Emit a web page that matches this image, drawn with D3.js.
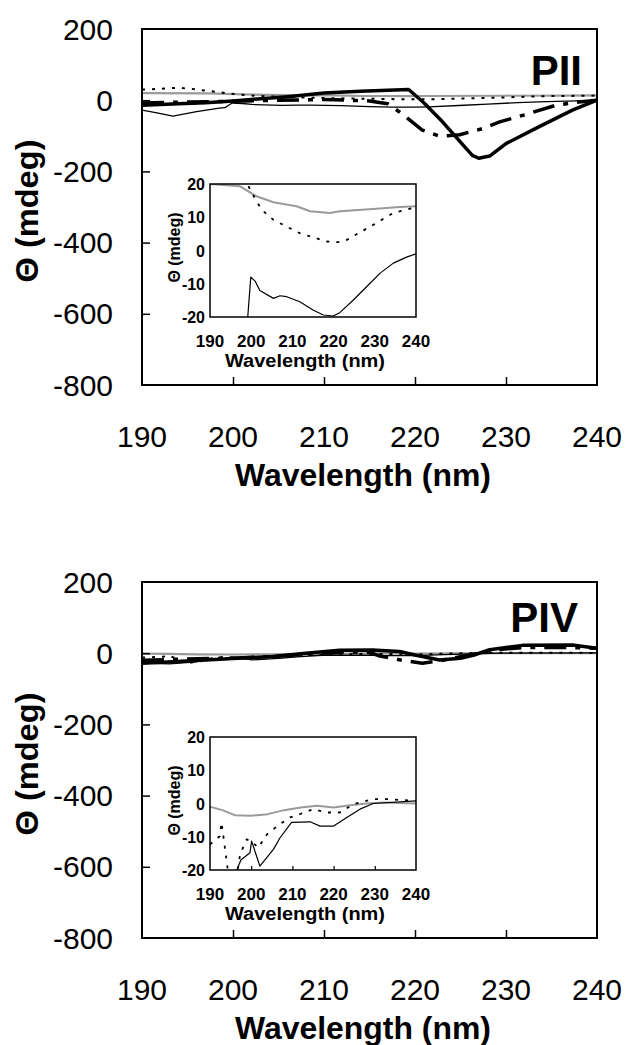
<!DOCTYPE html>
<html><head><meta charset="utf-8">
<script src="https://cdn.jsdelivr.net/npm/d3@7"></script>
<style>body{margin:0;background:#fff}svg{display:block}</style>
</head><body>
<script>
// ---------- data ----------
const wavelengthTicks = [190, 200, 210, 220, 230, 240];
const mainYTicks = [200, 0, -200, -400, -600, -800];
const insetYTicks = [20, 10, 0, -10, -20];
const panelLabels = ["PII", "PIV"];

// PII panel series: [wavelength nm, ellipticity mdeg]
const piiThick = [[190,-14],[194,-10],[197,-7],[200,-2],[202,2],[206,10],[210,20],[214,25],[219.3,30],[221,-8],[223,-60],[225,-118],[226.3,-155],[227,-163],[228.2,-157],[230,-122],[233.6,-75],[237.3,-28],[240,0]];
const piiDashed = [[190,-8],[195,-5],[200,-3],[205,0],[210,2],[215,-2],[217,-10],[218.3,-33],[220.8,-84],[222.7,-101],[224.9,-97],[227.4,-80],[229.3,-61],[232.2,-40],[235.5,-14],[238,-5],[240,0]];
const piiDotted = [[190,30],[192,32],[194,35],[196,30],[198,24],[199.7,18.3],[202.5,12.3],[205.4,9.2],[211.8,5.2],[218.3,2.7],[221,2.5],[223.2,3.2],[229.6,7.7],[234.5,11.3],[240,13]];
const piiGray = [[190,20],[197.3,19.3],[201.3,16.3],[205.4,14.5],[211,13.3],[214.3,11.8],[219.1,11.3],[221.5,11.8],[229.6,12.5],[236.1,13.1],[240,13.3]];
const piiThin = [[190,-28],[191.5,-35],[193.4,-45],[196,-32],[198.5,-22],[199.1,-21],[199.9,-8],[201,-9.3],[202.1,-12],[205.4,-14.4],[207,-13.6],[208.6,-13.9],[211.8,-15.4],[215,-17.9],[217.5,-19.4],[219.9,-19.7],[221.5,-18.7],[224.8,-14.9],[228,-10.9],[231.3,-6.8],[234.5,-3.8],[237.7,-2],[240,-1]];

// PIV panel series
const pivThick = [[190,-28],[195,-22],[200,-15],[204.4,-9],[208,0],[211.7,8],[215.3,9],[218.3,5],[220,-5],[222.7,-19],[225,-14],[226.5,-5],[228.2,10],[230,16],[231.8,22],[237.3,23],[240,14]];
const pivDashed = [[190,-20],[195,-16],[200,-14],[204,-10],[208,-3],[212,3],[215,2],[216,-7],[218.6,-20],[220.8,-28],[223,-20],[225,-10],[227,0],[229,10],[232,16],[237,16],[240,14]];
const pivDotted = [[190,-12.3],[192.4,-9.8],[192.8,-5.7],[193.4,-11.3],[194.2,-18.8],[195,-28],[196.5,-22],[197.3,-15.3],[198.9,-10.8],[200,-11.3],[201.7,-13.3],[203.8,-9.3],[207,-6.2],[209.4,-4.2],[211.8,-3.2],[215,-1.7],[218.3,-2.7],[221.5,-2.7],[224.8,-0.2],[229.6,1.3],[232.9,1.3],[240,0.8]];
const pivGray = [[190,-1],[193,-2],[196,-3.5],[200,-3.7],[204,-3.2],[208,-2],[212,-1.2],[216,-0.7],[220,-1.2],[224,-0.5],[228,0],[232,0.3],[240,0]];
const pivThin = [[190,-28],[193,-30],[196,-24],[196.5,-20],[197.5,-17],[199.7,-14.8],[200.1,-11.3],[202.1,-18.8],[205.4,-13.8],[207,-10.3],[209.8,-5.7],[214.3,-5.5],[216.7,-6.8],[220,-6.8],[223.2,-4.2],[226.4,-1.7],[229.6,0],[240,0.8]];

// ---------- styles ----------
const styles = {
  gray:   {stroke:"#9a9a9a", width:2.2, dash:null},
  thin:   {stroke:"#000", width:1.3, dash:null},
  dotted: {stroke:"#000", width:2, dash:"3,7"},
  dashed: {stroke:"#000", width:3.5, dash:"22,9,5,9"},
  thick:  {stroke:"#000", width:3.5, dash:null}
};
const FONT = "'Liberation Sans', Arial, Helvetica, sans-serif";

const svg = d3.select("body").append("svg").attr("width", 630).attr("height", 1045);

const panels = [
  {label: panelLabels[0], dy: 0, labelX: 582, labelY: 85,
   main: [["gray",piiGray],["thin",piiThin],["dotted",piiDotted],["dashed",piiDashed],["thick",piiThick]],
   inset: [["gray",piiGray],["dotted",piiDotted],["thin",piiThin]], insetTicks:false},
  {label: panelLabels[1], dy: 553, labelX: 578, labelY: 79,
   main: [["gray",pivGray],["thin",pivThin],["dotted",pivDotted],["dashed",pivDashed],["thick",pivThick]],
   inset: [["gray",pivGray],["dotted",pivDotted],["thin",pivThin]], insetTicks:true}
];

panels.forEach((p, i) => {
  const g = svg.append("g").attr("transform", `translate(0,${p.dy})`);
  const L = 142, R = 597, T = 29, B = 385;
  const x = d3.scaleLinear().domain([190, 240]).range([L, R]);
  const y = d3.scaleLinear().domain([-800, 200]).range([B, T]);

  const clipId = "clipM" + i;
  g.append("clipPath").attr("id", clipId).append("rect")
    .attr("x", L).attr("y", T).attr("width", R - L).attr("height", B - T);

  const line = d3.line().x(d => x(d[0])).y(d => y(d[1]));
  const lg = g.append("g").attr("clip-path", `url(#${clipId})`);
  p.main.forEach(([k, data]) => {
    const s = styles[k];
    lg.append("path").attr("d", line(data)).attr("fill", "none")
      .attr("stroke", s.stroke).attr("stroke-width", s.width)
      .attr("stroke-dasharray", s.dash).attr("stroke-linejoin", "round");
  });

  // frame
  g.append("rect").attr("x", L).attr("y", T).attr("width", R - L).attr("height", B - T)
    .attr("fill", "none").attr("stroke", "#000").attr("stroke-width", 2);

  // axes with inward ticks
  const xAxis = d3.axisTop(x).tickValues(wavelengthTicks.slice(1, -1)).tickSize(8).tickFormat("");
  g.append("g").attr("transform", `translate(0,${B})`).call(xAxis)
    .call(a => { a.select(".domain").remove(); a.selectAll("line").attr("stroke-width", 1.5); });
  const yAxis = d3.axisRight(y).tickValues(mainYTicks.slice(1, -1)).tickSize(8).tickFormat("");
  g.append("g").attr("transform", `translate(${L},0)`).call(yAxis)
    .call(a => { a.select(".domain").remove(); a.selectAll("line").attr("stroke-width", 1.5); });

  // tick labels
  g.selectAll(".ylab").data(mainYTicks).enter().append("text")
    .attr("x", 113).attr("y", d => y(d) + 10.5).attr("text-anchor", "end")
    .attr("font-family", FONT).attr("font-size", 30).text(d => d);
  g.selectAll(".xlab").data(wavelengthTicks).enter().append("text")
    .attr("x", d => x(d)).attr("y", 447).attr("text-anchor", "middle")
    .attr("font-family", FONT).attr("font-size", 30).text(d => d);

  // titles
  g.append("text").attr("x", 363).attr("y", 486).attr("text-anchor", "middle")
    .attr("font-family", FONT).attr("font-weight", "bold").attr("font-size", 31)
    .attr("textLength", 256).attr("lengthAdjust", "spacingAndGlyphs")
    .text("Wavelength (nm)");
  g.append("text").attr("transform", `translate(38,${(T + B) / 2 + 4}) rotate(-90)`)
    .attr("text-anchor", "middle").attr("font-family", FONT).attr("font-weight", "bold")
    .attr("font-size", 31).attr("textLength", 143).attr("lengthAdjust", "spacingAndGlyphs")
    .text("Θ (mdeg)");
  g.append("text").attr("x", p.labelX).attr("y", p.labelY).attr("text-anchor", "end")
    .attr("font-family", FONT).attr("font-weight", "bold").attr("font-size", 42)
    .text(p.label);

  // ---------- inset ----------
  const iL = 210, iR = 416, iT = 184, iB = 317;
  const ix = d3.scaleLinear().domain([190, 240]).range([iL, iR]);
  const iy = d3.scaleLinear().domain([-20, 20]).range([iB, iT]);
  const iclip = "clipI" + i;
  g.append("clipPath").attr("id", iclip).append("rect")
    .attr("x", iL).attr("y", iT).attr("width", iR - iL).attr("height", iB - iT);
  g.append("rect").attr("x", iL).attr("y", iT).attr("width", iR - iL).attr("height", iB - iT)
    .attr("fill", "#fff");
  const iline = d3.line().x(d => ix(d[0])).y(d => iy(d[1]));
  const ig = g.append("g").attr("clip-path", `url(#${iclip})`);
  p.inset.forEach(([k, data]) => {
    ig.append("path").attr("d", iline(data)).attr("fill", "none")
      .attr("stroke", styles[k].stroke).attr("stroke-width", k === "dotted" ? 1.8 : (k === "gray" ? 2 : 1.2))
      .attr("stroke-dasharray", k === "dotted" ? "3,7" : null).attr("stroke-linejoin", "round");
  });
  g.append("rect").attr("x", iL).attr("y", iT).attr("width", iR - iL).attr("height", iB - iT)
    .attr("fill", "none").attr("stroke", "#000").attr("stroke-width", 1.5);
  if (p.insetTicks) {
    g.append("g").attr("transform", `translate(0,${iB})`)
      .call(d3.axisTop(ix).tickValues(wavelengthTicks.slice(1, -1)).tickSize(4).tickFormat(""))
      .call(a => { a.select(".domain").remove(); a.selectAll("line").attr("stroke-width", 1.2); });
  }
  g.selectAll(".iylab").data(insetYTicks).enter().append("text")
    .attr("x", 205).attr("y", d => iy(d) + 6).attr("text-anchor", "end")
    .attr("font-family", FONT).attr("font-weight", "bold").attr("font-size", 16).text(d => d);
  g.selectAll(".ixlab").data(wavelengthTicks).enter().append("text")
    .attr("x", d => ix(d)).attr("y", iB + 30).attr("text-anchor", "middle")
    .attr("font-family", FONT).attr("font-weight", "bold").attr("font-size", 17).text(d => d);
  g.append("text").attr("x", 305).attr("y", iB + 50).attr("text-anchor", "middle")
    .attr("font-family", FONT).attr("font-weight", "bold").attr("font-size", 18)
    .attr("textLength", 160).attr("lengthAdjust", "spacingAndGlyphs")
    .text("Wavelength (nm)");
  g.append("text").attr("transform", `translate(180,${(iT + iB) / 2 - 3}) rotate(-90)`)
    .attr("text-anchor", "middle").attr("font-family", FONT).attr("font-weight", "bold")
    .attr("font-size", 16).text("Θ (mdeg)");
});
</script>
</body></html>
